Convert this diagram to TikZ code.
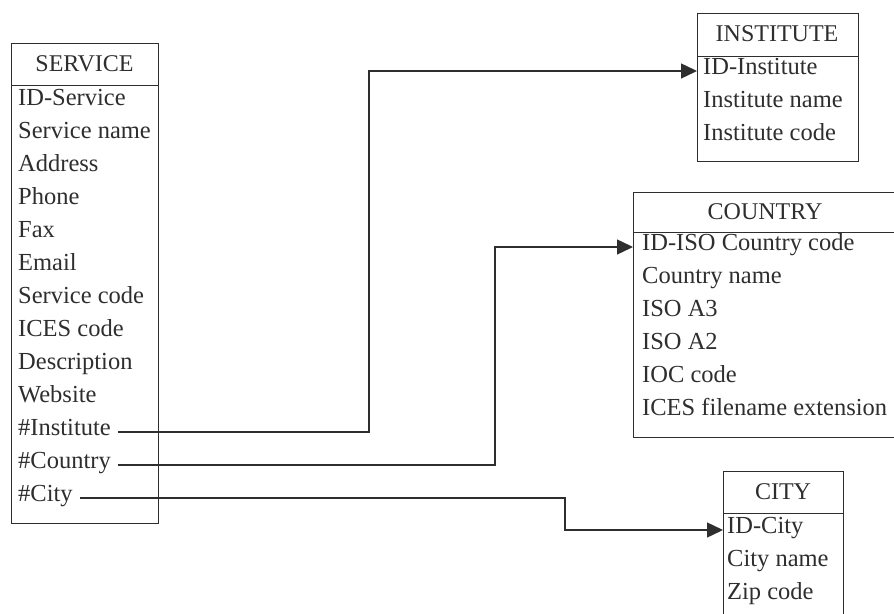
\documentclass[tikz,border=0pt]{standalone}
\usepackage{fontspec}
\setmainfont{Liberation Serif}
\usetikzlibrary{arrows.meta,calc}
\definecolor{ink}{gray}{0.18}
\begin{document}
\begin{tikzpicture}[x=1pt,y=-1pt,
  tbl/.style={draw=ink,line width=0.9pt,anchor=north west,inner sep=0pt},
  hdr/.style={font=\fontsize{24}{24}\selectfont,text=ink,inner sep=0pt},
  row/.style={font=\fontsize{24.5}{24.5}\selectfont,text=ink,anchor=west,inner ysep=0pt,text height=0.62em,text depth=0pt},
  link/.style={draw=ink,line width=1.4pt},
  arr/.style={link,-{Triangle[length=16pt,width=15pt]}}]
\useasboundingbox (0,0) rectangle (894,613);
% SERVICE
\node[tbl,minimum width=147pt,minimum height=480pt] (svc) at (11,43) {};
\draw[draw=ink,line width=0.9pt] (11,85) -- (158,85);
\node[hdr] (svch) at (84.5,64) {SERVICE};
\foreach \t [count=\i from 0] in {ID-Service,Service name,Address,Phone,Fax,Email,Service code,ICES code,Description,Website}
  \node[row,inner xsep=7pt] (s\i) at (11,102+33*\i) {\t};
\node[row,inner xsep=7pt] (sinst) at (11,432) {\#Institute};
\node[row,inner xsep=7pt] (scty) at (11,465) {\#Country};
\node[row,inner xsep=7pt] (scity) at (11,498) {\#City};
% INSTITUTE
\node[tbl,minimum width=161pt,minimum height=148pt] (inst) at (697,13) {};
\draw[draw=ink,line width=0.9pt] (697,56) -- (858,56);
\node[hdr] (insth) at (777,34) {INSTITUTE};
\node[row,inner xsep=6pt] (iid) at (697,71) {ID-Institute};
\node[row,inner xsep=6pt] (i1) at (697,104) {Institute name};
\node[row,inner xsep=6pt] (i2) at (697,137) {Institute code};
% COUNTRY
\node[tbl,minimum width=264pt,minimum height=245pt] (ctry) at (633,192) {};
\draw[draw=ink,line width=0.9pt] (633,232) -- (897,232);
\node[hdr] (ctryh) at (765,212) {COUNTRY};
\node[row,inner xsep=9pt] (cid) at (633,247) {ID-ISO Country code};
\foreach \t [count=\i from 1] in {Country name,ISO A3,ISO A2,IOC code,ICES filename extension}
  \node[row,inner xsep=9pt] (c\i) at (633,247+33*\i) {\t};
% CITY
\node[tbl,minimum width=120pt,minimum height=150pt] (city) at (723,471) {};
\draw[draw=ink,line width=0.9pt] (723,513) -- (843,513);
\node[hdr] (cityh) at (783,492) {CITY};
\node[row,inner xsep=4pt] (tid) at (723,530) {ID-City};
\node[row,inner xsep=4pt] (t1) at (723,563) {City name};
\node[row,inner xsep=4pt] (t2) at (723,596) {Zip code};
% connectors
\coordinate (j1) at (369,250);
\coordinate (j2) at (495,350);
\coordinate (j3) at (565,515);
\draw[arr] (sinst.east) -| (j1) |- (iid.west);
\draw[arr] (scty.east) -| (j2) |- (cid.west);
\draw[arr] (scity.east) -| (j3) |- (tid.west);
\end{tikzpicture}
\end{document}
